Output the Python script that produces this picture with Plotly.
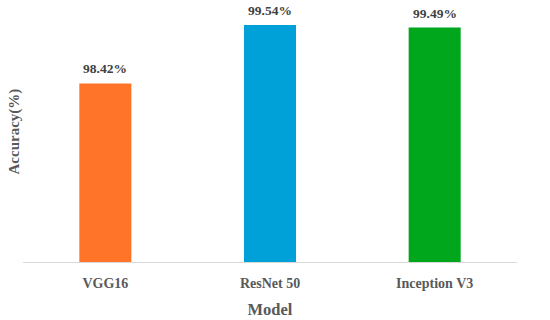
import plotly.graph_objects as go

models = ["VGG16", "ResNet 50", "Inception V3"]
accuracy = [98.42, 99.54, 99.49]
bar_colors = ["#FF7428", "#00A1D9", "#00A61C"]

FONT = "Liberation Serif"

fig = go.Figure()
fig.add_trace(go.Bar(
    x=models, y=accuracy, marker=dict(color=bar_colors, line=dict(width=0)),
    width=0.316, showlegend=False, hoverinfo="skip",
))

for m, v in zip(models, accuracy):
    fig.add_annotation(
        x=m, y=v, text=f"<b>{v:.2f}%</b>", showarrow=False,
        yanchor="bottom", yshift=5,
        font=dict(family=FONT, size=13.5, color="#404040"),
    )

fig.add_annotation(
    xref="paper", yref="paper", x=0, y=0.5, xshift=-9,
    text="<b>Accuracy(%)</b>", textangle=-90, showarrow=False,
    xanchor="center", yanchor="middle",
    font=dict(family=FONT, size=15, color="#595959"),
)

fig.update_layout(
    width=550, height=320,
    margin=dict(l=23, r=33, t=1, b=58),
    paper_bgcolor="white", plot_bgcolor="white",
    font=dict(family=FONT),
    xaxis=dict(
        showline=True, linecolor="#D9D9D9", linewidth=1, ticks="",
        showgrid=False, zeroline=False, automargin=False,
        tickfont=dict(family=FONT, size=14, color="#595959", weight="bold"),
        ticklabelstandoff=8,
        title=dict(text="<b>Model</b>", font=dict(family=FONT, size=16.5, color="#595959"), standoff=13),
    ),
    yaxis=dict(
        range=[95, 100], showticklabels=False, showgrid=False, zeroline=False,
        showline=False, ticks="", automargin=False,
    ),
)

fig.write_html("out.html", config={"displayModeBar": False},
               post_script="document.body.style.margin='0';")
